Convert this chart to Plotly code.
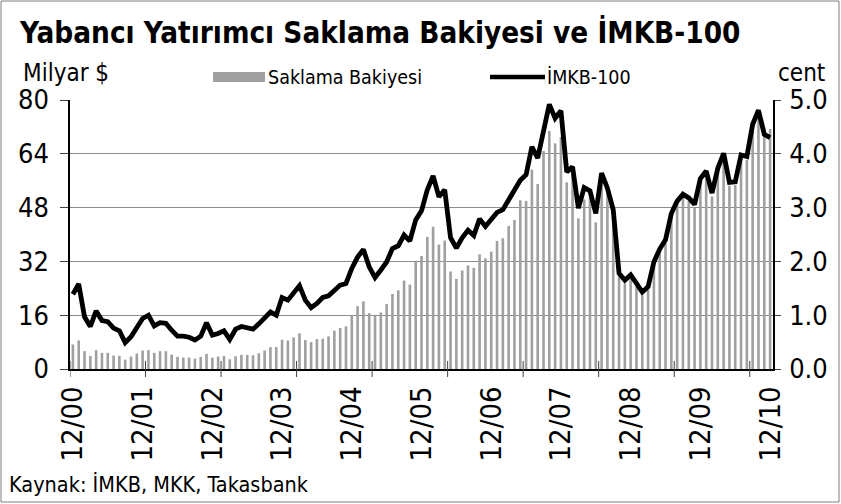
import plotly.graph_objects as go

months = list(range(121))  # 12/2000 .. 12/2010, monthly
tick_pos = list(range(0, 121, 12))
tick_labels = ["12/00", "12/01", "12/02", "12/03", "12/04", "12/05",
               "12/06", "12/07", "12/08", "12/09", "12/10"]

saklama_bakiyesi = [
    7.3, 8.5, 5.3, 3.9, 5.6, 4.8, 4.8, 4.0, 3.9, 2.8,
    3.7, 4.6, 5.5, 5.6, 4.8, 5.3, 5.3, 4.3, 3.6, 3.4,
    3.4, 3.1, 3.6, 4.5, 3.4, 3.7, 3.9, 2.9, 3.8, 4.2,
    4.2, 4.1, 4.7, 5.5, 6.5, 6.5, 8.7, 8.5, 9.4, 10.6,
    8.6, 8.0, 8.9, 9.0, 9.7, 11.4, 12.2, 12.7, 15.9, 18.7,
    20.1, 16.6, 15.8, 16.8, 19.3, 22.3, 23.4, 26.3, 25.1, 31.8,
    33.6, 39.3, 42.3, 37.0, 38.2, 29.0, 26.8, 29.3, 30.8, 30.1,
    34.1, 32.9, 34.9, 38.1, 38.9, 42.5, 44.3, 50.2, 50.0, 59.3,
    55.0, 64.8, 70.8, 67.1, 69.0, 55.5, 58.0, 44.8, 50.4, 51.0,
    43.6, 57.2, 52.8, 46.4, 27.5, 25.4, 27.0, 24.4, 21.9, 23.5,
    30.8, 34.7, 37.4, 45.2, 48.9, 51.0, 49.9, 48.0, 55.6, 57.9,
    51.3, 58.7, 63.2, 54.5, 54.7, 62.7, 62.2, 71.0, 75.0, 71.8,
    71.4]

imkb100 = [
    1.39, 1.58, 0.97, 0.79, 1.08, 0.90, 0.88, 0.76, 0.71, 0.49,
    0.60, 0.79, 0.94, 1.00, 0.80, 0.86, 0.85, 0.72, 0.61, 0.61,
    0.59, 0.54, 0.61, 0.86, 0.63, 0.66, 0.71, 0.55, 0.74, 0.79,
    0.76, 0.74, 0.84, 0.94, 1.06, 1.00, 1.33, 1.28, 1.42, 1.55,
    1.28, 1.14, 1.22, 1.33, 1.36, 1.47, 1.56, 1.59, 1.87, 2.08,
    2.22, 1.90, 1.70, 1.84, 1.99, 2.24, 2.29, 2.49, 2.38, 2.77,
    2.94, 3.33, 3.59, 3.20, 3.33, 2.44, 2.25, 2.44, 2.58, 2.48,
    2.79, 2.65, 2.79, 2.91, 2.96, 3.14, 3.30, 3.51, 3.61, 4.13,
    3.92, 4.47, 4.92, 4.66, 4.80, 3.66, 3.76, 2.99, 3.37, 3.31,
    2.89, 3.64, 3.36, 2.96, 1.78, 1.65, 1.75, 1.59, 1.43, 1.53,
    1.99, 2.23, 2.40, 2.89, 3.12, 3.25, 3.18, 3.06, 3.54, 3.68,
    3.27, 3.73, 4.01, 3.47, 3.48, 3.98, 3.95, 4.55, 4.81, 4.36,
    4.30]

FONT = "Tahoma, 'DejaVu Sans Condensed', 'DejaVu Sans', sans-serif"
BAR_COLOR = "#a0a0a0"

# plot area in pixels: x 70..773, y 100..369
L, R, T, B = 70, 773, 100, 369
W, H = R - L, B - T
def px(x):
    return (x - L) / W
def py(y):
    return (B - y) / H

fig = go.Figure()
fig.add_trace(go.Bar(x=months, y=saklama_bakiyesi, name="Saklama Bakiyesi",
                     marker=dict(color=BAR_COLOR, line=dict(width=0)),
                     width=0.45, yaxis="y"))
fig.add_trace(go.Scatter(x=months, y=imkb100, name="İMKB-100", mode="lines",
                         line=dict(color="black", width=4.8), yaxis="y2"))

shapes = []
# outer border
shapes.append(dict(type="rect", xref="paper", yref="paper",
                   x0=px(1), x1=px(839), y0=py(502), y1=py(1),
                   line=dict(color="#7f7f7f", width=1), layer="below"))
# x tick marks (every 13 categories, crossing axis)
for k in range(10):
    xv = -0.5 + 13 * k
    shapes.append(dict(type="line", xref="x", yref="paper", x0=xv, x1=xv,
                       y0=py(377), y1=py(361), line=dict(color="#404040", width=1)))
# legend markers
shapes.append(dict(type="rect", xref="paper", yref="paper",
                   x0=px(213), x1=px(265), y0=py(82), y1=py(72),
                   fillcolor=BAR_COLOR, line=dict(width=0)))
shapes.append(dict(type="line", xref="paper", yref="paper",
                   x0=px(490), x1=px(545), y0=py(77), y1=py(77),
                   line=dict(color="black", width=4.5)))

annotations = [
    dict(text="<b>Yabancı Yatırımcı Saklama Bakiyesi ve İMKB-100</b>",
         xref="paper", yref="paper", x=px(17), y=py(32), xanchor="left", yanchor="middle",
         showarrow=False, font=dict(size=29.4, color="black", family=FONT)),
    dict(text="Milyar $", xref="paper", yref="paper", x=px(21), y=py(73),
         xanchor="left", yanchor="middle", showarrow=False,
         font=dict(size=24, color="black", family=FONT)),
    dict(text="cent", xref="paper", yref="paper", x=px(827), y=py(73),
         xanchor="right", yanchor="middle", showarrow=False,
         font=dict(size=24, color="black", family=FONT)),
    dict(text="Saklama Bakiyesi", xref="paper", yref="paper", x=px(266), y=py(78),
         xanchor="left", yanchor="middle", showarrow=False,
         font=dict(size=19.5, color="black", family=FONT)),
    dict(text="İMKB-100", xref="paper", yref="paper", x=px(545), y=py(78),
         xanchor="left", yanchor="middle", showarrow=False,
         font=dict(size=19.5, color="black", family=FONT)),
    dict(text="Kaynak: İMKB, MKK, Takasbank", xref="paper", yref="paper",
         x=px(7), y=py(484), xanchor="left", yanchor="middle", showarrow=False,
         font=dict(size=21.5, color="black", family=FONT)),
]

fig.update_layout(
    width=841, height=504,
    margin=dict(l=L, r=841 - R, t=T, b=504 - B, pad=0),
    paper_bgcolor="white", plot_bgcolor="white",
    showlegend=False,
    font=dict(family=FONT, color="black"),
    bargap=0.5,
    xaxis=dict(range=[-0.5, 120.5], tickmode="array", tickvals=tick_pos,
               ticktext=tick_labels, tickangle=-90, ticks="", showgrid=False,
               showline=True, linecolor="black", linewidth=1.5, zeroline=False,
               tickfont=dict(size=29, family=FONT), ticklabelstandoff=4),
    yaxis=dict(range=[0, 80], tickvals=[0, 16, 32, 48, 64, 80], showgrid=True,
               gridcolor="#8c8c8c", gridwidth=1, zeroline=False,
               showline=True, linecolor="black", linewidth=1.5,
               ticks="outside", ticklen=8, tickcolor="#404040",
               tickfont=dict(size=27, family=FONT), ticklabelstandoff=6),
    yaxis2=dict(range=[0, 5], tickvals=[0, 1, 2, 3, 4, 5], tickformat=".1f",
                overlaying="y", side="right", showgrid=False, zeroline=False,
                showline=True, linecolor="black", linewidth=1.5,
                ticks="outside", ticklen=6, tickcolor="#404040",
                tickfont=dict(size=27, family=FONT), ticklabelstandoff=3),
    shapes=shapes,
    annotations=annotations,
)

fig.write_html("out.html", config={"displayModeBar": False},
               post_script="document.body.style.margin='0';")
